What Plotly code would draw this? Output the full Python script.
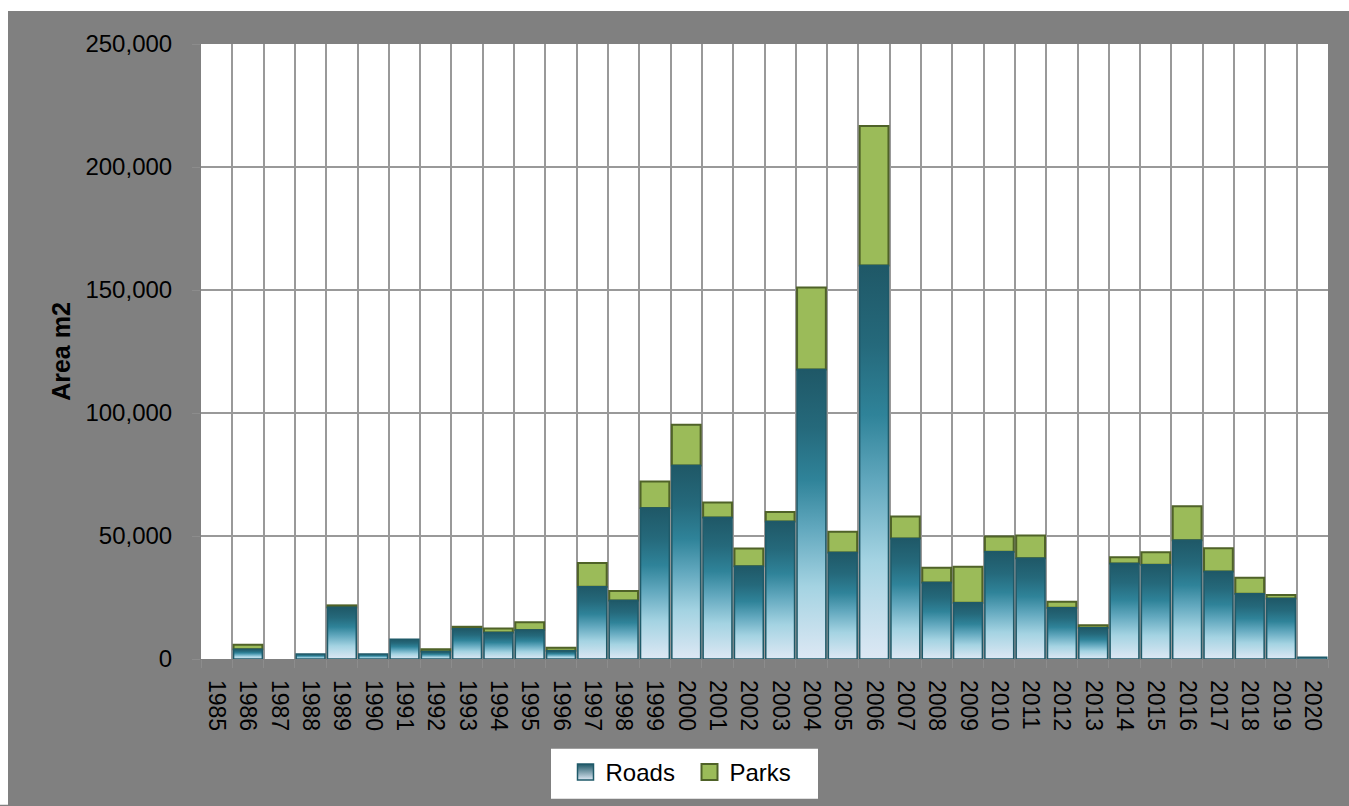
import plotly.graph_objects as go

# Yearly area added (m2), split into roads and parks
years = [str(y) for y in range(1985, 2021)]
roads = [0, 4000, 0, 2000, 21000, 2000, 8000, 3000, 12300, 10800, 11800, 3400,
         29400, 23800, 61400, 78700, 57500, 37700, 55900, 117700, 43300, 160000,
         49000, 31100, 22900, 43600, 41000, 20800, 12700, 38800, 38300, 48300,
         35600, 26500, 24600, 700]
parks = [0, 1800, 0, 0, 800, 0, 0, 1000, 800, 1600, 3100, 1200,
         9600, 3800, 10800, 16500, 6100, 7200, 3900, 33300, 8400, 56700,
         8900, 6000, 14600, 6200, 9200, 2500, 1000, 2600, 5100, 13800,
         9400, 6500, 1400, 0]
y_ticks = [0, 50000, 100000, 150000, 200000, 250000]

FONT = "Liberation Sans, Arial, sans-serif"
BAR_W = 0.92
ROAD_DARK, ROAD_LIGHT, ROAD_EDGE = "#1F5867", "#DDE8F4", "#1F5A69"
PARK_FILL, PARK_EDGE = "#9BBB59", "#4F6228"
ROAD_SCALE = [
    [0.0, ROAD_LIGHT],
    [0.25, "#A4D3E2"],
    [0.45, "#62A8BE"],
    [0.62, "#2F8399"],
    [0.8, "#25697B"],
    [1.0, ROAD_DARK],
]

W, H = 1349, 806
L, R, T, B = 201, 21, 44, 146
PW, PH = W - L - R, H - T - B


def px_x(px):
    return (px - L) / PW


def px_y(py):
    return (PH + T - py) / PH


fig = go.Figure()

# Roads: one gradient-filled column per year, on the numeric category index
for i, v in enumerate(roads):
    if v <= 0:
        continue
    x0, x1 = i - BAR_W / 2, i + BAR_W / 2
    fig.add_trace(go.Scatter(
        x=[x0, x0, x1, x1, x0], y=[0, v, v, 0, 0],
        mode="lines", fill="toself",
        fillgradient=dict(type="vertical", colorscale=ROAD_SCALE),
        line=dict(color=ROAD_EDGE, width=1.5),
        name="Roads", legendgroup="roads", showlegend=False,
        hoverinfo="skip",
    ))

# Parks stacked on top of roads
fig.add_trace(go.Bar(
    x=list(range(len(years))),
    y=[p if p > 0 else None for p in parks],
    base=roads,
    width=BAR_W,
    marker=dict(color=PARK_FILL, line=dict(color=PARK_EDGE, width=2)),
    name="Parks", legendgroup="parks", showlegend=False,
))

# Square legend keys for both series
fig.add_trace(go.Scatter(
    x=[None], y=[None], mode="markers", name="Roads", legendgroup="roads",
    marker=dict(symbol="square", size=16, color=ROAD_DARK,
                gradient=dict(type="vertical", color=ROAD_LIGHT),
                line=dict(color=ROAD_EDGE, width=1.5)),
))
fig.add_trace(go.Scatter(
    x=[None], y=[None], mode="markers", name="Parks", legendgroup="parks",
    marker=dict(symbol="square", size=16, color=PARK_FILL,
                line=dict(color=PARK_EDGE, width=2)),
))

boundaries = [i - 0.5 for i in range(len(years) + 1)]

fig.update_layout(
    width=W, height=H,
    margin=dict(l=L, r=R, t=T, b=B),
    paper_bgcolor="#808080",
    plot_bgcolor="#FFFFFF",
    font=dict(family=FONT, color="#000000", size=24),
    showlegend=True,
    legend=dict(
        orientation="h",
        x=px_x(565.5), xanchor="left",
        y=px_y(750), yanchor="top",
        bgcolor="rgba(0,0,0,0)",
        font=dict(size=24),
        traceorder="normal",
        itemwidth=30,
        entrywidth=79,
    ),
    xaxis=dict(
        range=[-0.5, len(years) - 0.5],
        tickmode="array",
        tickvals=list(range(len(years))),
        ticktext=years,
        tickangle=90,
        tickfont=dict(size=23),
        ticks="",
        showgrid=False,
        zeroline=False,
        showline=False,
        ticklabelstandoff=20,
        minor=dict(
            tickmode="array",
            tickvals=boundaries,
            showgrid=True,
            gridcolor="#999999",
            gridwidth=1.5,
            ticks="outside",
            ticklen=8,
            tickcolor="#8C8C8C",
        ),
    ),
    yaxis=dict(
        range=[0, 250000],
        tickmode="array",
        tickvals=y_ticks,
        tickformat=",",
        tickfont=dict(size=24),
        showgrid=True,
        gridcolor="#999999",
        gridwidth=1.5,
        zeroline=False,
        showline=False,
        ticks="outside",
        ticklen=8,
        tickcolor="#8C8C8C",
        ticklabelstandoff=15,
        title=dict(text="<b>Area m2</b>", font=dict(size=25), standoff=7),
    ),
    shapes=[
        # thin white page border along the top and left edges
        dict(type="rect", xref="paper", yref="paper", layer="above",
             x0=px_x(0), x1=px_x(W), y0=px_y(11), y1=px_y(0),
             fillcolor="#FFFFFF", line=dict(width=0)),
        dict(type="rect", xref="paper", yref="paper", layer="above",
             x0=px_x(0), x1=px_x(8), y0=px_y(H), y1=px_y(0),
             fillcolor="#FFFFFF", line=dict(width=0)),
        # white legend panel
        dict(type="rect", xref="paper", yref="paper", layer="below",
             x0=px_x(551), x1=px_x(818), y0=px_y(800), y1=px_y(750),
             fillcolor="#FFFFFF", line=dict(width=0)),
    ],
)

fig.write_html("out.html")
